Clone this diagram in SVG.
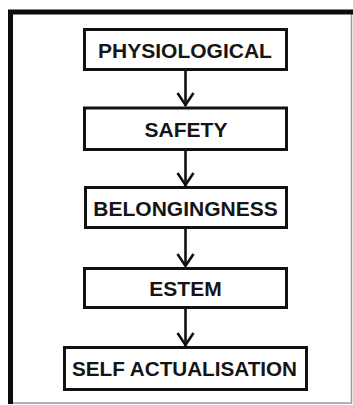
<svg xmlns="http://www.w3.org/2000/svg" width="353" height="405" viewBox="0 0 353 405">
  <style>
    .box { fill: #ffffff; stroke: #111111; stroke-width: 3; }
    .label { font-family: "Liberation Sans", Arial, sans-serif; font-weight: bold; font-size: 21px; fill: #151515; text-anchor: middle; }
    .link { stroke: #111111; stroke-width: 2.6; fill: none; }
    .head { stroke: #111111; stroke-width: 2.6; fill: none; stroke-linejoin: miter; }
  </style>
  <rect x="0" y="0" width="353" height="405" fill="#ffffff"/>

  <!-- outer frame: heavy top and left rules, light right and bottom rules -->
  <g id="frame">
    <path d="M351.5 12 V403 H9" stroke="#9a9a9a" stroke-width="1.5" fill="none"/>
    <path d="M10.5 404 V12 H353" stroke="#0c0c0c" stroke-width="5" fill="none"/>
  </g>

  <g id="connectors">
    <line class="link" x1="185.5" y1="70" x2="185.5" y2="106"/>
    <polyline class="head" points="177.5,93 185.5,105 193.5,93"/>
    <line class="link" x1="185.5" y1="150" x2="185.5" y2="186"/>
    <polyline class="head" points="177.5,173 185.5,185 193.5,173"/>
    <line class="link" x1="185.5" y1="228" x2="185.5" y2="266"/>
    <polyline class="head" points="177.5,254 185.5,266 193.5,254"/>
    <line class="link" x1="185.5" y1="308" x2="185.5" y2="346"/>
    <polyline class="head" points="177.5,333 185.5,345 193.5,333"/>
  </g>

  <g id="physiological">
    <rect class="box" x="84.5" y="29.5" width="202" height="40"/>
    <text class="label" x="185" y="57.5">PHYSIOLOGICAL</text>
  </g>
  <g id="safety">
    <rect class="box" x="84.5" y="108" width="202" height="41.5"/>
    <text class="label" x="186" y="136.5">SAFETY</text>
  </g>
  <g id="belongingness">
    <rect class="box" x="85.5" y="187.5" width="201" height="40"/>
    <text class="label" x="185.5" y="215.5">BELONGINGNESS</text>
  </g>
  <g id="estem">
    <rect class="box" x="84.5" y="268.5" width="202" height="39"/>
    <text class="label" x="185.5" y="296">ESTEM</text>
  </g>
  <g id="self-actualisation">
    <rect class="box" x="64.5" y="347.5" width="242" height="42"/>
    <text class="label" x="184.5" y="376" textLength="225" lengthAdjust="spacingAndGlyphs">SELF ACTUALISATION</text>
  </g>
</svg>
